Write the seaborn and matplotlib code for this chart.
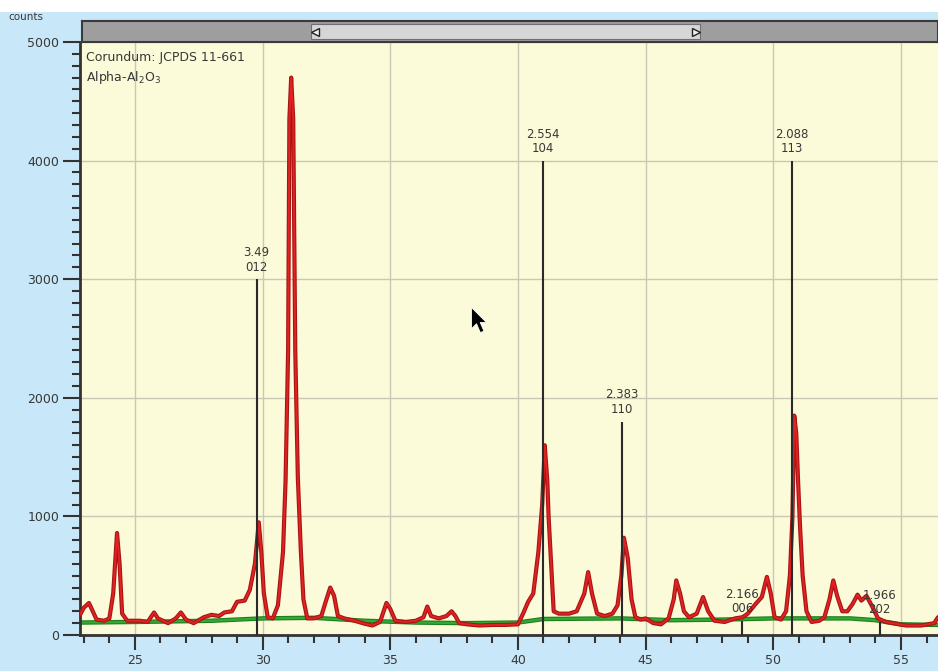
import numpy as np
import pandas as pd
import matplotlib
matplotlib.use("Agg")
import matplotlib.pyplot as plt
import seaborn as sns
from matplotlib.patches import Rectangle
from matplotlib.path import Path

two_theta = [22.85, 23.0, 23.2, 23.35, 23.5, 23.8, 24.0, 24.15, 24.3, 24.4, 24.5, 24.7,
             25.2, 25.5, 25.75, 25.9, 26.3, 26.6, 26.8, 27.0, 27.3, 27.7, 28.0, 28.3,
             28.5, 28.8, 29.0, 29.3, 29.5, 29.7, 29.85, 29.95, 30.05, 30.2, 30.4, 30.6,
             30.8, 30.9, 31.0, 31.05, 31.12, 31.2, 31.28, 31.38, 31.5, 31.6, 31.75, 32.0,
             32.3, 32.5, 32.65, 32.8, 32.95, 33.2, 33.6, 34.0, 34.3, 34.6, 34.85, 35.0,
             35.2, 35.6, 36.0, 36.3, 36.45, 36.6, 36.9, 37.2, 37.4, 37.55, 37.7, 38.0,
             38.5, 39.0, 39.5, 40.0, 40.2, 40.4, 40.6, 40.8, 40.95, 41.05, 41.15, 41.2,
             41.3, 41.4, 41.6, 42.0, 42.3, 42.6, 42.75, 42.9, 43.1, 43.4, 43.7, 43.9,
             44.05, 44.15, 44.3, 44.45, 44.6, 44.8, 45.0, 45.3, 45.6, 45.9, 46.1, 46.2,
             46.35, 46.5, 46.7, 47.0, 47.25, 47.45, 47.7, 48.1, 48.5, 48.8, 49.0, 49.3,
             49.55, 49.75, 49.9, 50.05, 50.3, 50.5, 50.65, 50.75, 50.82, 50.9, 50.97, 51.05,
             51.15, 51.3, 51.5, 51.8, 52.0, 52.2, 52.35, 52.5, 52.7, 52.9, 53.1, 53.3,
             53.45, 53.65, 53.85, 54.1, 54.4, 54.8, 55.2, 55.8, 56.3, 56.45]
counts = [170, 230, 270, 200, 130, 120, 140, 350, 860, 600, 180, 120,
          120, 110, 190, 140, 100, 140, 190, 130, 100, 150, 170, 160,
          190, 200, 280, 290, 380, 600, 950, 700, 350, 150, 140, 250,
          700, 1300, 2400, 4350, 4700, 4350, 2400, 1330, 700, 300, 140, 140,
          160, 300, 400, 330, 160, 140, 120, 95, 80, 110, 270, 220,
          120, 110, 120, 150, 240, 160, 140, 160, 200, 160, 100, 90,
          80, 85, 85, 90, 180, 280, 350, 700, 1100, 1600, 1300, 1000,
          600, 200, 180, 180, 200, 350, 530, 350, 180, 160, 180, 250,
          500, 820, 650, 300, 150, 130, 140, 100, 90, 140, 300, 460,
          350, 200, 150, 180, 320, 200, 120, 110, 140, 150, 180, 260,
          320, 490, 350, 150, 130, 200, 500, 1000, 1850, 1700, 1300, 900,
          500, 200, 110, 120, 150, 300, 460, 330, 200, 200, 260, 340,
          290, 330, 250, 140, 110, 95, 80, 80, 100, 150]

# fitted background
bg_theta = [22.85, 25, 28, 30, 32, 34, 36, 38, 40, 41, 44, 46, 48, 50, 53, 54, 55, 56.45]
bg_counts = [105, 110, 120, 140, 145, 120, 105, 100, 105, 135, 140, 125, 130, 140, 140, 125, 90, 85]

# reference card: Corundum JCPDS 11-661
ref_theta = [29.77, 40.99, 44.08, 48.78, 50.72, 54.17]
ref_height = [3000, 4000, 1800, 120, 4000, 110]
ref_d = ["3.49", "2.554", "2.383", "2.166", "2.088", "1.966"]
ref_hkl = ["012", "104", "110", "006", "113", "202"]

pattern = pd.DataFrame({"two_theta": two_theta, "counts": counts})
background = pd.DataFrame({"two_theta": bg_theta, "counts": bg_counts})

sns.set_theme(style="ticks")
plt.rcParams["font.family"] = ["DejaVu Sans"]

outer = "#c8e7f8"
plotbg = "#fbfbd9"
txt = "#383838"

fig = plt.figure(figsize=(9.38, 6.71), dpi=100, facecolor=outer)
fig.patches.append(Rectangle((0, 1 - 12 / 671), 1, 12 / 671, transform=fig.transFigure,
                             facecolor="white", edgecolor="none", zorder=0))

ax = fig.add_axes([80 / 938, 36 / 671, 858 / 938, 593 / 671])
ax.set_facecolor(plotbg)

# grid
ax.set_xticks(range(25, 60, 5))
ax.set_xticks(range(23, 57), minor=True)
ax.set_yticks(range(0, 5001, 1000))
ax.set_yticks(range(0, 5001, 100), minor=True)
ax.grid(which="major", color="#c8c8b4", lw=1.0)
ax.set_axisbelow(True)

# background and pattern
sns.lineplot(data=background, x="two_theta", y="counts", ax=ax, color="#1f7f1f",
             lw=3.2, estimator=None, sort=False, zorder=2)
sns.lineplot(data=background, x="two_theta", y="counts", ax=ax, color="#33a833",
             lw=1.6, estimator=None, sort=False, zorder=2)
sns.lineplot(data=pattern, x="two_theta", y="counts", ax=ax, color="#a81414",
             lw=3.0, estimator=None, sort=False, zorder=3)
sns.lineplot(data=pattern, x="two_theta", y="counts", ax=ax, color="#e02222",
             lw=1.4, estimator=None, sort=False, zorder=3)

# reference sticks with d-spacing / hkl labels
ax.vlines(ref_theta, 0, ref_height, color="#2a2a2a", lw=1.5, zorder=4)
for t, h, d, hkl in zip(ref_theta, ref_height, ref_d, ref_hkl):
    ax.annotate(f"{d}\n{hkl}", (t, h), xytext=(0, 4), textcoords="offset points",
                ha="center", va="bottom", fontsize=8.5, color=txt, linespacing=1.15,
                zorder=5)

ax.text(0.007, 0.985, "Corundum: JCPDS 11-661", transform=ax.transAxes,
        fontsize=9, color=txt, va="top", ha="left")
ax.text(0.007, 0.955, r"Alpha-Al$_\mathregular{2}$O$_\mathregular{3}$", transform=ax.transAxes,
        fontsize=9, color=txt, va="top", ha="left")

# mouse pointer seen on the capture
cursor = Path([(0, 0), (0, -17), (4, -13), (7, -20), (10, -19), (7, -12), (12, -12), (0, 0)],
              [Path.MOVETO] + [Path.LINETO] * 6 + [Path.CLOSEPOLY])
ax.plot([0.456], [0.553], marker=cursor, markersize=36, color="black",
        markeredgecolor="white", markeredgewidth=0.6, transform=ax.transAxes, zorder=6)

ax.set_xlim(22.85, 56.45)
ax.set_ylim(0, 5000)
ax.set_xlabel("")
ax.set_ylabel("")
ax.set_xticklabels([str(v) for v in range(25, 60, 5)])
ax.tick_params(axis="x", which="major", length=11, width=1.5, color="#333333",
               labelsize=9, labelcolor=txt, pad=3)
ax.tick_params(axis="x", which="minor", length=6, width=1.5, color="#333333")
ax.tick_params(axis="y", which="major", length=12, width=1.5, color="#333333",
               labelsize=9, labelcolor=txt, pad=3)
ax.tick_params(axis="y", which="minor", length=6, width=1.5, color="#333333")
for side in ["top", "right"]:
    ax.spines[side].set_visible(False)
ax.spines["left"].set_color("#333333")
ax.spines["left"].set_linewidth(2)
ax.spines["bottom"].set_color("#333333")
ax.spines["bottom"].set_linewidth(2)

fig.text(8 / 938, 1 - 17 / 671, "counts", fontsize=7.5, color=txt, va="center", ha="left")

# scroll bar above the plot
sb = fig.add_axes([82 / 938, 1 - 42 / 671, 856 / 938, 21 / 671])
sb.set_facecolor("#9e9e9e")
sb.set_xlim(0, 1)
sb.set_ylim(0, 1)
sb.add_patch(Rectangle((0.267, 0.12), 0.455, 0.76, facecolor="#d6d6d6", edgecolor="#707070", lw=0.8))
sb.plot([0.272], [0.5], marker="<", markersize=6, color="#f0f0f0", markeredgecolor="#222222")
sb.plot([0.717], [0.5], marker=">", markersize=6, color="#f0f0f0", markeredgecolor="#222222")
sb.set_xticks([])
sb.set_yticks([])
for s in sb.spines.values():
    s.set_color("#3a3a3a")
    s.set_linewidth(1.5)

fig.savefig("out.png", dpi=100, facecolor=fig.get_facecolor())
